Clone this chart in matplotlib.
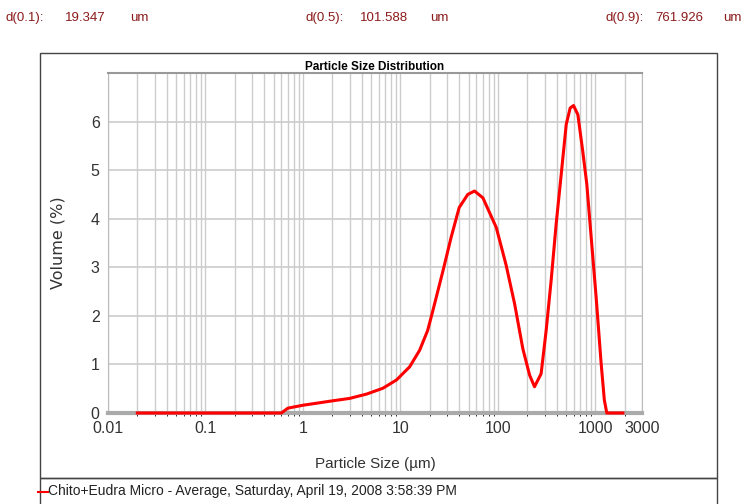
import matplotlib.pyplot as plt
from matplotlib.patches import Rectangle
from matplotlib.lines import Line2D

SANS = ['Liberation Sans', 'DejaVu Sans']
RED = '#ff0000'
MAROON = '#8b1a1a'

# particle size (um) and volume (%)
size_um = [0.02, 0.1, 0.3, 0.6, 0.7, 1.0, 2.0, 3.0, 4.5, 6.6, 9.1, 12.4, 15.7,
           19.0, 21.5, 27.3, 33, 40, 49, 57.5, 70, 96, 121, 148, 180, 211,
           237, 277, 312, 351, 395, 445, 501, 550, 596, 660, 740, 815, 904,
           1016, 1143, 1232, 1306, 1500, 1910]
volume_pct = [0, 0, 0, 0, 0.10, 0.16, 0.25, 0.30, 0.39, 0.51, 0.68, 0.95, 1.29,
              1.70, 2.11, 2.93, 3.61, 4.23, 4.50, 4.57, 4.43, 3.82, 3.05, 2.25,
              1.32, 0.78, 0.54, 0.81, 1.70, 2.73, 3.89, 4.91, 5.94, 6.28, 6.33,
              6.14, 5.39, 4.71, 3.61, 2.38, 1.02, 0.27, 0, 0, 0]

x_ticks = [0.01, 0.1, 1, 10, 100, 1000, 3000]
x_tick_labels = ['0.01', '0.1', '1', '10', '100', '1000', '3000']
y_ticks = [0, 1, 2, 3, 4, 5, 6]

d_labels = ['d(0.1):', 'd(0.5):', 'd(0.9):']
d_values = ['19.347', '101.588', '761.926']

plt.rcParams['font.family'] = SANS

fig = plt.figure(figsize=(7.45, 5.04), dpi=100)

# outer frame and legend box
fig.patches.append(Rectangle((40 / 745, 1 - 478 / 504), 677 / 745, 425 / 504,
                             transform=fig.transFigure, fill=False,
                             edgecolor='#444444', linewidth=1))
fig.patches.append(Rectangle((40 / 745, -0.01), 677 / 745, 1 - 478 / 504 + 0.01,
                             transform=fig.transFigure, fill=False,
                             edgecolor='#444444', linewidth=1))

ax = fig.add_axes([108 / 745, 1 - 413 / 504, 534 / 745, 340 / 504])
ax.plot(size_um, volume_pct, color=RED, linewidth=2.2, zorder=5, clip_on=False)
ax.set_xscale('log')
ax.set_xlim(0.01, 3000)
ax.set_ylim(0, 7)
ax.set_xticks(x_ticks)
ax.set_xticklabels(x_tick_labels)
ax.set_yticks(y_ticks)
ax.tick_params(length=0, labelsize=11.5, labelcolor='#333333')
ax.tick_params(axis='x', pad=6)
ax.tick_params(axis='y', pad=6)
ax.grid(True, which='both', axis='x', color='#cccccc', linewidth=1)
ax.grid(True, which='major', axis='y', color='#cccccc', linewidth=1.2)
ax.set_axisbelow(True)
for side in ['left', 'right']:
    ax.spines[side].set_color('#bbbbbb')
ax.spines['top'].set_color('#999999')
ax.spines['top'].set_linewidth(1.5)
ax.spines['bottom'].set_color('#aaaaaa')
ax.spines['bottom'].set_linewidth(3)

ax.set_title('Particle Size Distribution', fontsize=8.5,
             fontweight='bold', pad=2)
ax.set_xlabel('Particle Size (\u00b5m)', fontsize=11,
              color='#333333', labelpad=15)
ax.set_ylabel('Volume (%)', family=['DejaVu Sans'], fontsize=11.5,
              color='#333333', labelpad=18)

# header statistics
label_x = [5, 305, 605]
value_x = [65, 360, 655]
unit_x = [130, 430, 723]
for lx, vx, ux, lab, val in zip(label_x, value_x, unit_x, d_labels, d_values):
    y = 1 - 18 / 504
    fig.text(lx / 745, y, lab, fontsize=9.5, color=MAROON, va='center')
    fig.text(vx / 745, y, val, fontsize=9.5, color=MAROON, va='center')
    fig.text(ux / 745, y, 'um', fontsize=9.5, color=MAROON, va='center')

# legend entry
fig.lines.append(Line2D([38 / 745, 48 / 745], [1 - 492 / 504] * 2,
                        transform=fig.transFigure, color=RED, linewidth=1.5))
fig.text(48 / 745, 1 - 491 / 504,
         'Chito+Eudra Micro - Average, Saturday, April 19, 2008 3:58:39 PM',
         fontsize=10, color='#222222', va='center')

fig.savefig('out.png', dpi=100)
